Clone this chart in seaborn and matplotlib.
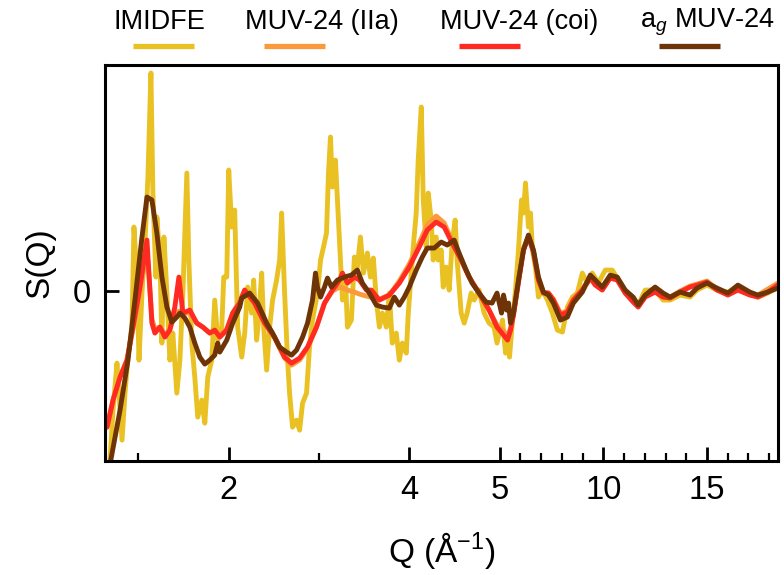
import numpy as np
import pandas as pd
import matplotlib
matplotlib.use("Agg")
import matplotlib.pyplot as plt
import seaborn as sns
from matplotlib.lines import Line2D

# ---------------- data: structure factor S(Q) ----------------
q_imidfe = [0.663,0.685,0.718,0.762,0.785,0.818,0.851,0.884,0.928,0.950,0.983,1.006,1.039,1.072,1.105,1.138,1.160,1.193,1.204,1.238,1.260,1.282,1.315,1.348,1.381,1.425,1.459,1.492,1.536,1.558,1.591,1.624,1.657,1.702,1.735,1.768,1.812,1.845,1.878,1.923,1.945,1.978,2.000,2.033,2.066,2.099,2.144,2.177,2.210,2.254,2.276,2.309,2.331,2.365,2.387,2.420,2.453,2.486,2.530,2.564,2.586,2.619,2.652,2.674,2.707,2.751,2.785,2.818,2.862,2.895,2.928,2.983,3.017,3.050,3.083,3.105,3.127,3.149,3.182,3.204,3.238,3.260,3.293,3.315,3.359,3.392,3.425,3.459,3.492,3.536,3.569,3.602,3.635,3.669,3.702,3.746,3.779,3.812,3.856,3.890,3.923,3.967,3.989,4.022,4.044,4.077,4.099,4.133,4.155,4.188,4.210,4.243,4.265,4.298,4.320,4.354,4.376,4.409,4.442,4.475,4.508,4.530,4.575,4.608,4.641,4.685,4.718,4.773,4.829,4.884,4.939,4.972,5.144,5.288,5.385,5.481,5.625,5.769,5.913,6.058,6.154,6.250,6.394,6.490,6.587,6.731,6.875,7.067,7.308,7.548,7.788,8.029,8.269,8.510,8.750,8.990,9.231,9.471,9.760,10.096,10.433,10.721,11.058,11.394,11.683,12.019,12.500,12.885,13.221,13.702,14.183,14.519,15.000,15.481,16.010,16.490,17.067,17.452,17.933,18.413]
s_imidfe = [-1.84,-1.69,-1.19,-0.72,-1.02,-1.49,-1.02,-0.66,-0.36,0.64,0.14,-0.69,-0.02,0.48,1.14,2.18,0.98,0.14,0.74,0.31,-0.52,0.54,-0.02,-0.69,-0.42,-1.02,-0.69,-0.02,1.18,0.31,-0.52,-0.86,-1.26,-1.09,-1.32,-0.86,-0.69,-0.09,-0.49,-0.36,0.14,0.14,1.21,0.64,0.81,-0.36,-0.66,-0.42,0.04,-0.22,0.11,-0.49,-0.29,0.18,-0.36,-0.79,-0.36,-0.09,0.11,0.31,0.78,-0.02,-0.69,-1.02,-1.36,-1.29,-1.39,-1.12,-1.02,-0.56,-0.29,-0.02,0.31,0.44,0.58,1.18,1.54,1.04,1.31,0.91,0.31,-0.09,0.14,-0.36,-0.29,0.34,0.24,0.54,0.18,0.38,0.14,0.33,-0.09,-0.36,-0.22,-0.36,-0.02,-0.52,-0.42,-0.69,-0.52,-0.62,-0.22,0.18,0.44,0.78,1.31,1.84,0.91,0.44,0.98,0.71,0.31,0.54,0.31,0.41,0.04,0.24,0.01,0.48,0.71,0.31,-0.22,-0.32,-0.22,-0.02,-0.09,0.01,-0.22,-0.32,-0.36,-0.52,-0.29,-0.62,-0.49,-0.66,-0.29,0.01,0.41,0.91,0.78,1.08,0.64,0.78,0.41,0.24,-0.06,0.01,-0.09,-0.22,-0.39,-0.41,-0.16,-0.06,-0.02,0.18,0.08,0.18,0.08,0.21,0.21,0.11,-0.02,-0.06,-0.14,0.01,0.01,-0.09,-0.09,-0.04,-0.06,0.01,0.06,0.01,-0.01,0.04,-0.02,-0.06,-0.02,0.04]

q_muv = [0.652,0.718,0.796,0.873,0.939,1.017,1.050,1.094,1.116,1.149,1.182,1.238,1.293,1.348,1.403,1.448,1.492,1.569,1.646,1.713,1.790,1.845,1.901,1.978,2.044,2.122,2.177,2.287,2.398,2.508,2.619,2.696,2.785,2.873,2.972,3.061,3.149,3.227,3.260,3.315,3.392,3.448,3.525,3.580,3.669,3.779,3.890,4.000,4.110,4.199,4.298,4.387,4.475,4.575,4.663,4.773,4.884,4.972,5.192,5.385,5.529,5.673,5.913,6.154,6.394,6.635,6.875,7.115,7.356,7.596,7.933,8.269,8.558,8.990,9.375,9.615,9.952,10.337,10.673,11.058,11.442,11.683,12.019,12.500,12.885,13.221,13.702,14.183,14.519,15.000,15.481,16.010,16.490,17.067,17.452,17.933,18.413]
s_iia = [-1.36,-1.09,-0.86,-0.69,-0.38,0.00,0.18,0.38,0.15,-0.28,-0.38,-0.36,-0.44,-0.38,-0.24,-0.20,-0.22,-0.22,-0.32,-0.36,-0.42,-0.40,-0.44,-0.38,-0.22,-0.10,0.01,-0.12,-0.32,-0.47,-0.67,-0.74,-0.69,-0.57,-0.36,-0.12,0.00,0.04,0.03,0.01,-0.01,-0.03,-0.05,-0.06,-0.08,-0.04,0.10,0.27,0.48,0.66,0.75,0.68,0.50,0.31,0.14,-0.02,-0.19,-0.34,-0.40,-0.45,-0.37,-0.22,0.10,0.43,0.55,0.40,0.12,-0.01,-0.02,-0.08,-0.22,-0.20,-0.08,0.02,0.14,0.07,0.02,0.14,0.12,-0.01,-0.10,-0.15,-0.05,0.00,-0.05,-0.06,0.00,0.05,0.07,0.10,0.02,-0.03,0.03,-0.03,-0.04,0.02,0.08]
s_coi = [-1.36,-1.09,-0.86,-0.69,-0.36,0.04,0.24,0.51,0.18,-0.32,-0.42,-0.36,-0.46,-0.39,-0.16,0.14,-0.22,-0.19,-0.32,-0.36,-0.42,-0.39,-0.46,-0.39,-0.22,-0.12,0.01,-0.12,-0.32,-0.46,-0.66,-0.72,-0.67,-0.56,-0.36,-0.12,0.01,0.11,0.18,0.08,0.14,0.11,0.01,0.01,-0.09,-0.04,0.08,0.24,0.44,0.61,0.69,0.64,0.48,0.31,0.14,-0.02,-0.19,-0.36,-0.44,-0.49,-0.39,-0.24,0.09,0.41,0.54,0.39,0.11,-0.02,-0.02,-0.09,-0.24,-0.21,-0.09,0.01,0.13,0.06,0.01,0.13,0.11,-0.02,-0.11,-0.16,-0.06,-0.01,-0.06,-0.07,-0.01,0.04,0.06,0.09,0.01,-0.04,0.01,-0.04,-0.06,-0.01,0.06]

q_ag = [0.663,0.796,0.884,0.961,1.039,1.094,1.149,1.204,1.260,1.315,1.370,1.425,1.459,1.514,1.569,1.624,1.680,1.735,1.790,1.845,1.878,1.901,1.978,2.044,2.122,2.144,2.232,2.320,2.420,2.486,2.564,2.641,2.696,2.751,2.818,2.873,2.928,2.961,2.983,3.017,3.061,3.094,3.138,3.204,3.282,3.359,3.425,3.481,3.558,3.635,3.702,3.779,3.834,3.890,3.945,4.000,4.077,4.144,4.199,4.276,4.354,4.420,4.497,4.552,4.630,4.696,4.773,4.851,4.917,4.972,5.096,5.192,5.337,5.433,5.529,5.673,5.913,6.154,6.394,6.635,6.875,7.115,7.356,7.596,7.933,8.269,8.558,8.990,9.375,9.615,9.952,10.337,10.673,11.058,11.442,11.683,12.019,12.500,12.885,13.221,13.702,14.183,14.519,15.000,15.481,16.010,16.490,17.067,17.452,17.933,18.413]
s_ag = [-1.84,-1.19,-0.69,-0.09,0.54,0.94,0.91,0.58,0.14,-0.16,-0.31,-0.26,-0.22,-0.27,-0.36,-0.52,-0.66,-0.73,-0.69,-0.64,-0.52,-0.61,-0.49,-0.32,-0.16,-0.07,-0.02,-0.12,-0.32,-0.42,-0.56,-0.61,-0.64,-0.59,-0.46,-0.32,-0.09,0.18,0.04,-0.06,0.04,0.13,0.04,0.11,0.14,0.16,0.21,0.08,-0.02,-0.14,-0.16,-0.17,-0.06,-0.14,-0.06,0.04,0.21,0.34,0.43,0.43,0.49,0.46,0.51,0.38,0.21,0.08,-0.02,-0.11,-0.12,-0.02,-0.22,-0.04,-0.19,-0.12,-0.32,-0.22,0.11,0.41,0.56,0.41,0.14,-0.01,-0.04,-0.12,-0.29,-0.26,-0.12,-0.01,0.16,0.11,0.04,0.16,0.14,0.01,-0.06,-0.14,-0.04,0.04,-0.02,-0.06,-0.01,-0.04,0.03,0.08,0.03,-0.02,0.06,-0.01,-0.04,-0.01,0.03]

series_names = ["IMIDFE", "MUV-24 (IIa)", "MUV-24 (coi)", r"a$_g$ MUV-24"]
series_colors = ["#E9C122", "#FA9A3A", "#FF2A22", "#6E3407"]

x_major = [2, 4, 5, 10, 15]
x_minor = [1, 3, 6, 7, 8, 9, 11, 12, 13, 14, 16, 17, 18]

# ---------------- style ----------------
sns.set_style("ticks")
plt.rcParams["font.family"] = ["Liberation Sans", "DejaVu Sans"]
plt.rcParams["mathtext.fontset"] = "custom"
plt.rcParams["mathtext.rm"] = "Liberation Sans"
plt.rcParams["mathtext.it"] = "Liberation Sans:italic"
plt.rcParams["mathtext.sf"] = "Liberation Sans"
plt.rcParams["text.color"] = "black"
plt.rcParams["axes.labelcolor"] = "black"
plt.rcParams["xtick.color"] = "black"
plt.rcParams["ytick.color"] = "black"
plt.rcParams["xtick.labelcolor"] = "black"
plt.rcParams["ytick.labelcolor"] = "black"

df = pd.concat([
    pd.DataFrame({"Q": q_imidfe, "S": s_imidfe, "series": series_names[0]}),
    pd.DataFrame({"Q": q_muv, "S": s_iia, "series": series_names[1]}),
    pd.DataFrame({"Q": q_muv, "S": s_coi, "series": series_names[2]}),
    pd.DataFrame({"Q": q_ag, "S": s_ag, "series": series_names[3]}),
], ignore_index=True)

fig = plt.figure(figsize=(7.84, 5.75), dpi=100)
ax = fig.add_axes([0.134, 0.198, 0.858, 0.689])

sns.lineplot(data=df, x="Q", y="S", hue="series", hue_order=series_names,
             palette=series_colors, estimator=None, sort=False,
             linewidth=3.5, legend=False, ax=ax)
for ln in ax.lines:
    ln.set_solid_joinstyle("round")
    ln.set_solid_capstyle("round")

# piecewise-linear Q axis: compressed above 5 1/A
K = 0.2298
def fwd(q):
    q = np.asarray(q, dtype=float)
    return np.where(q <= 5, q, 5 + (q - 5) * K)

def inv(x):
    x = np.asarray(x, dtype=float)
    return np.where(x <= 5, x, 5 + (x - 5) / K)

ax.set_xscale("function", functions=(fwd, inv))
ax.set_xlim(0.63, 18.41)
ax.set_ylim(-1.70, 2.26)

ax.set_xticks(x_major)
ax.set_xticklabels([str(v) for v in x_major])
ax.set_xticks(x_minor, minor=True)
ax.set_yticks([0])
ax.set_yticklabels(["0"])
ax.yaxis.set_minor_locator(matplotlib.ticker.NullLocator())

ax.tick_params(axis="both", which="major", direction="in", length=10, width=2,
               labelsize=23.5, pad=10, color="black", labelcolor="black")
ax.tick_params(axis="x", which="minor", direction="in", length=6, width=1.6,
               color="black")
for sp in ax.spines.values():
    sp.set_linewidth(2.2)
    sp.set_color("black")

ax.set_xlabel(r"Q (Å$^{-1}$)", fontsize=24, labelpad=17, color="black")
ax.set_ylabel("S(Q)", fontsize=24, labelpad=13, color="black")

# legend: label above a short line sample
leg_text_x = [114, 245, 440, 640]
for name, color, tx in zip(series_names, series_colors, leg_text_x):
    fig.text(tx / 784, 1 - 22 / 575, name, fontsize=19.5, ha="left",
             va="center", color="black")
    x0 = (tx + 19) / 784
    fig.add_artist(Line2D([x0, x0 + 61 / 784], [1 - 46 / 575] * 2,
                          color=color, linewidth=3.8, solid_capstyle="butt"))

fig.savefig("out.png", dpi=100)
